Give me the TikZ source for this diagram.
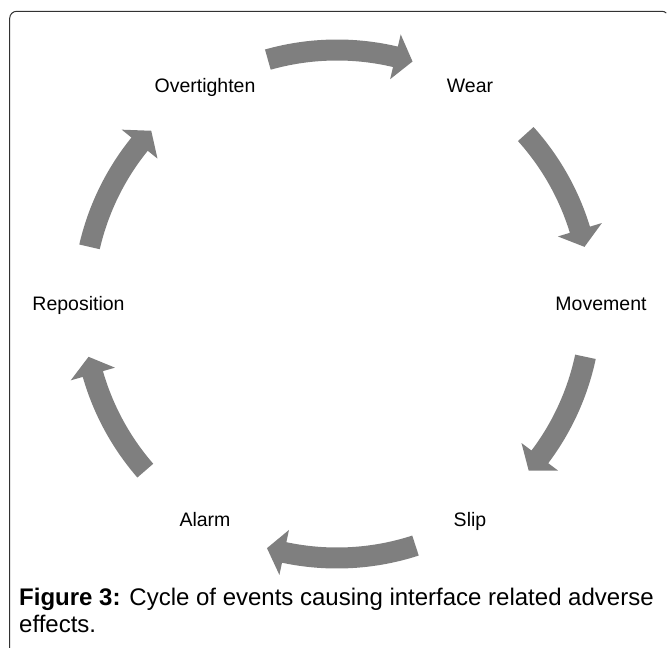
\documentclass[tikz,border=0pt]{standalone}
\usepackage{fontspec}
\setmainfont{Liberation Sans}
\definecolor{arrowgray}{RGB}{127,127,127}
\definecolor{framegray}{RGB}{50,50,50}
\tikzset{
  lbl/.style={anchor=base, inner sep=0pt, font=\fontsize{19.5}{23}\selectfont},
  captxt/.style={anchor=base west, inner sep=0pt, font=\fontsize{24}{27}\selectfont},
  cyclearrow/.style={fill=arrowgray, draw=none},
  frameline/.style={draw=framegray, line width=1pt}
}
% #1 tail angle, #2 tip angle (clockwise)
\newcommand{\cyclearr}[2]{%
  \pgfmathsetmacro{\hb}{#2+4}%
  \fill[cyclearrow, shift={(337,344)}]
    (#1:264.5) arc[start angle=#1, end angle=\hb, radius=264.5]
    -- (\hb:277) -- (#2:254) -- (\hb:231)
    -- (\hb:243.5) arc[start angle=\hb, end angle=#1, radius=243.5] -- cycle;%
}
\begin{document}
\begin{tikzpicture}[x=1pt,y=1pt]
\useasboundingbox (0,0) rectangle (667,648);
\draw[frameline] (9.7,0) -- (9.7,629.7) arc[start angle=180, end angle=90, radius=7] -- (662,636.7) arc[start angle=90, end angle=45, radius=6];
% labels
\node[lbl] (over) at (205,555) {Overtighten};
\node[lbl] (wear) at (470,555) {Wear};
\node[lbl] (move) at (601,337) {Movement};
\node[lbl] (slip) at (470,121) {Slip};
\node[lbl] (alarm) at (205,121) {Alarm};
\node[lbl] (repo) at (78.5,337) {Reposition};
% arrows
\cyclearr{105.8}{72.7}
\cyclearr{42}{13}
\cyclearr{-12}{-41}
\cyclearr{-72}{-106}
\cyclearr{221}{192}
\cyclearr{167}{137}
% caption
\node[captxt] (cap1) at (19,42) {\textbf{Figure 3:} Cycle of events causing interface related adverse};
\node[captxt] (cap2) at (19,15) {effects.};
\end{tikzpicture}
\end{document}
